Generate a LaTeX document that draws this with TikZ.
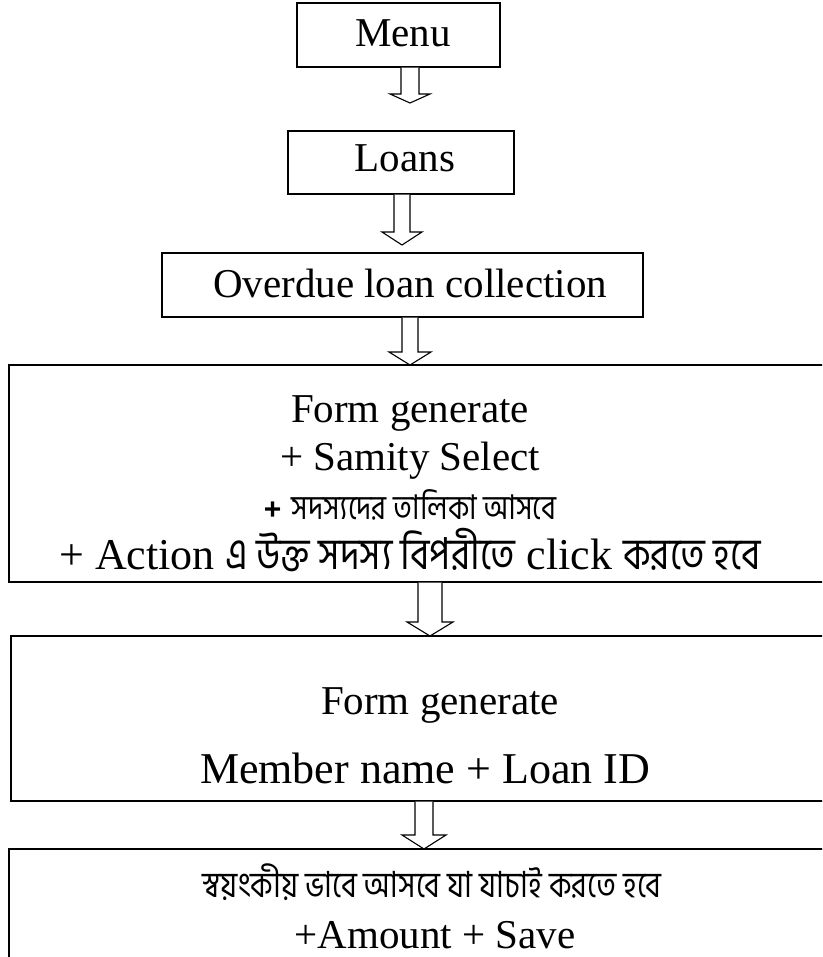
\documentclass[tikz,border=0pt]{standalone}
\usepackage{fontspec}
\setmainfont{Liberation Serif}
\newfontfamily\bn[Script=Bengali,FakeStretch=0.84]{Hind Siliguri}
\newfontfamily\plusfont{Liberation Sans}
\usetikzlibrary{calc}
\tikzset{
  box/.style={draw=black, line width=1.4pt, inner sep=0pt},
  txt/.style={anchor=base, inner sep=0pt, font=\fontsize{41}{49}\selectfont},
  blk/.style={draw=black, line width=1.1pt, fill=white, line join=miter},
}
\newcommand\bnbig{\bn\fontsize{44}{50}\selectfont}
\newcommand\bnmid{\bn\fontsize{36}{42}\selectfont}
\newcommand\bnsmall{\bn\fontsize{34}{40}\selectfont}
\newcommand\blockarr[5]{% start node, tip coordinate, shaft half, head half, head length
  \draw[blk] let \p1=(#1.south), \p2=(#2) in
    (\x2-#3pt,\y1) -- (\x2-#3pt,\y2+#5pt) -- (\x2-#4pt,\y2+#5pt) -- (\x2,\y2)
    -- (\x2+#4pt,\y2+#5pt) -- (\x2+#3pt,\y2+#5pt) -- (\x2+#3pt,\y1);}
\newcommand\bx[5]{% name, x1, y1, x2, y2 (pixels, y downward)
  \node[box, minimum width=#4pt-#2pt, minimum height=#5pt-#3pt] (#1) at ({(#2+#4)/2},{-(#3+#5)/2}) {};}
\begin{document}
\begin{tikzpicture}[x=1pt, y=1pt]
\useasboundingbox (0,0) rectangle (822,-957);
\clip (0,0) rectangle (822,-957);
% boxes
\bx{menu}{297}{3}{500}{67}
\bx{loans}{288}{131}{514}{194}
\bx{overdue}{162}{253}{643}{317}
\bx{formA}{9}{365}{880}{582}
\bx{formB}{11}{636}{880}{801}
\bx{auto}{9}{849}{880}{1010}
% texts
\node[txt] (tmenu) at (403,-47) {Menu};
\node[txt] (tloans) at (405,-172) {Loans};
\node[txt] (tover) at (410,-297) {Overdue loan collection};
\node[txt] (tfa1) at (410,-422) {Form generate};
\node[txt] (tfa2) at (410,-470) {+ Samity Select};
\node[txt] (tfa3) at (410,-519) {{\plusfont\bfseries\fontsize{30}{36}\selectfont +} {\bnsmall সদস্যদের তালিকা আসবে}};
\node[txt, font=\fontsize{44}{52}\selectfont] (tfa4) at (410,-569) {+ Action {\bnbig এ উক্ত সদস্য বিপরীতে} click {\bnbig করতে হবে}};
\node[txt] (tfb1) at (440,-714) {Form generate};
\node[txt, font=\fontsize{44}{52}\selectfont] (tfb2) at (425,-783) {Member name + Loan ID};
\node[txt] (tau1) at (432,-897) {\bnmid স্বয়ংকীয় ভাবে আসবে যা যাচাই করতে হবে};
\node[txt] (tau2) at (435,-948) {+Amount + Save};
% arrow tips
\coordinate (a1) at (410,-103);
\coordinate (a2) at (402,-245);
\coordinate (a3) at (410,-365);
\coordinate (a4) at (430,-636);
\coordinate (a5) at (424,-849);
\blockarr{menu}{a1}{9}{20}{9}
\blockarr{loans}{a2}{8}{20}{13}
\blockarr{overdue}{a3}{8}{21}{13}
\blockarr{formA}{a4}{12}{23}{14}
\blockarr{formB}{a5}{9}{22}{14}
\end{tikzpicture}
\end{document}
